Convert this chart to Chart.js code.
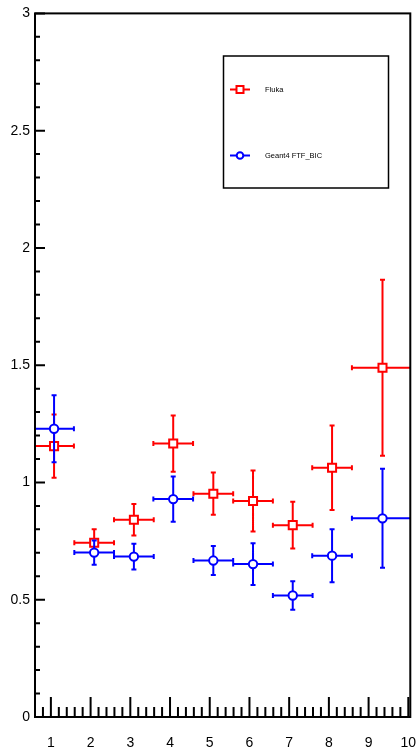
<!DOCTYPE html>
<html>
<head>
<meta charset="utf-8">
<script src="https://cdn.jsdelivr.net/npm/chart.js@4.4.1/dist/chart.umd.min.js"></script>
<style>
html, body { margin: 0; padding: 0; background: #fff; }
#wrap { width: 418px; height: 749px; }
</style>
</head>
<body>
<div id="wrap"><canvas id="c"></canvas></div>
<script>
// bins (centre and half width)
const binX = [1.08, 2.09, 3.09, 4.08, 5.09, 6.09, 7.09, 8.08, 9.35];
const binHalf = [0.5, 0.5, 0.5, 0.5, 0.5, 0.5, 0.5, 0.5, 0.77];

const flukaY = [1.155, 0.743, 0.841, 1.166, 0.952, 0.921, 0.818, 1.063, 1.489];
const flukaErr = [0.135, 0.057, 0.067, 0.12, 0.09, 0.13, 0.1, 0.18, 0.375];

const geantY = [1.229, 0.701, 0.684, 0.929, 0.667, 0.652, 0.518, 0.688, 0.847];
const geantErr = [0.143, 0.052, 0.055, 0.096, 0.062, 0.089, 0.061, 0.113, 0.211];

// labelled ticks
const yLabels = [0, 0.5, 1, 1.5, 2, 2.5, 3];
const xLabels = [1, 2, 3, 4, 5, 6, 7, 8, 9, 10];

const points = (ys, errs) => ys.map((v, i) => ({ x: binX[i], y: v, xErr: binHalf[i], yErr: errs[i] }));
const near = (list, v) => list.find(l => Math.abs(l - v) < 1e-6);

// every minor step between min and max
function stepTicks(s, step) {
    const t = [];
    const first = Math.ceil(s.min / step - 1e-6);
    for (let i = first; i * step <= s.max + 1e-6; i++) t.push({ value: Math.round(i * step * 100) / 100 });
    s.ticks = t;
}

Chart.defaults.font.family = "'Liberation Sans', Arial, sans-serif";
Chart.defaults.color = "#000";

// error bars, drawn under each dataset's markers
const errorBars = {
    id: "errorBars",
    beforeDatasetDraw(chart, args) {
        const ds = chart.data.datasets[args.index];
        const { ctx, chartArea: a, scales: { x, y } } = chart;
        ctx.save();
        ctx.beginPath();
        ctx.rect(a.left, a.top, a.right - a.left, a.bottom - a.top);
        ctx.clip();
        ctx.strokeStyle = ds.borderColor;
        ctx.lineWidth = 2;
        ctx.beginPath();
        ds.data.forEach(p => {
            const px = x.getPixelForValue(p.x), py = y.getPixelForValue(p.y);
            const x0 = x.getPixelForValue(p.x - p.xErr), x1 = x.getPixelForValue(p.x + p.xErr);
            const y0 = y.getPixelForValue(p.y - p.yErr), y1 = y.getPixelForValue(p.y + p.yErr);
            ctx.moveTo(x0, py); ctx.lineTo(x1, py);
            ctx.moveTo(px, y0); ctx.lineTo(px, y1);
            ctx.moveTo(x0, py - 2.5); ctx.lineTo(x0, py + 2.5);
            ctx.moveTo(x1, py - 2.5); ctx.lineTo(x1, py + 2.5);
            ctx.moveTo(px - 2.5, y0); ctx.lineTo(px + 2.5, y0);
            ctx.moveTo(px - 2.5, y1); ctx.lineTo(px + 2.5, y1);
        });
        ctx.stroke();
        ctx.restore();
    }
};

// frame + inward ticks, ROOT style
const frame = {
    id: "frame",
    afterDraw(chart) {
        const { ctx, chartArea: a, scales: { x, y } } = chart;
        ctx.save();
        ctx.strokeStyle = "#000";
        ctx.lineWidth = 2;
        ctx.strokeRect(a.left, a.top, a.right - a.left, a.bottom - a.top);
        ctx.beginPath();
        y.ticks.forEach(t => {
            const py = y.getPixelForValue(t.value);
            const len = t.label !== "" ? 10 : 5;
            ctx.moveTo(a.left, py); ctx.lineTo(a.left + len, py);
        });
        x.ticks.forEach(t => {
            const px = x.getPixelForValue(t.value);
            const len = t.label !== "" ? 20 : 10;
            ctx.moveTo(px, a.bottom); ctx.lineTo(px, a.bottom - len);
        });
        ctx.stroke();
        ctx.restore();
    }
};

// legend box
const legendBox = {
    id: "legendBox",
    afterDraw(chart) {
        const ctx = chart.ctx;
        const box = { x: 223.5, y: 56, w: 165, h: 132 };
        const rows = [89.5, 155.5];
        ctx.save();
        ctx.fillStyle = "#fff";
        ctx.fillRect(box.x, box.y, box.w, box.h);
        ctx.strokeStyle = "#000";
        ctx.lineWidth = 1.5;
        ctx.strokeRect(box.x, box.y, box.w, box.h);
        chart.data.datasets.forEach((ds, i) => {
            const ry = rows[i];
            ctx.strokeStyle = ds.borderColor;
            ctx.lineWidth = 2;
            ctx.beginPath();
            ctx.moveTo(230, ry); ctx.lineTo(250, ry);
            ctx.stroke();
            ctx.fillStyle = "#fff";
            ctx.beginPath();
            if (ds.pointStyle === "rect") ctx.rect(236.5, ry - 3.5, 7, 7);
            else ctx.arc(240, ry, 3.3, 0, Math.PI * 2);
            ctx.fill();
            ctx.stroke();
            ctx.fillStyle = "#000";
            ctx.font = "7.5px 'Liberation Sans', Arial, sans-serif";
            ctx.textBaseline = "middle";
            ctx.fillText(ds.label, 265, ry);
        });
        ctx.restore();
    }
};

new Chart(document.getElementById("c"), {
    type: "scatter",
    data: {
        datasets: [{
            label: "Fluka",
            data: points(flukaY, flukaErr),
            borderColor: "#ff0000",
            backgroundColor: "#ffffff",
            pointStyle: "rect",
            pointRadius: 5.7,
            pointBorderWidth: 2,
            order: 1
        },
        {
            label: "Geant4 FTF_BIC",
            data: points(geantY, geantErr),
            borderColor: "#0000ff",
            backgroundColor: "#ffffff",
            pointStyle: "circle",
            pointRadius: 4.2,
            pointBorderWidth: 2,
            order: 0
        }]
    },
    options: {
        responsive: true,
        maintainAspectRatio: false,
        animation: false,
        layout: { padding: { top: 12, right: 6.5, left: 0, bottom: 0 } },
        plugins: { legend: { display: false }, tooltip: { enabled: false } },
        scales: {
            x: {
                type: "linear",
                min: 0.6,
                max: 10.05,
                border: { display: false },
                grid: { display: false, drawTicks: false },
                afterBuildTicks: s => stepTicks(s, 0.2),
                ticks: {
                    autoSkip: false,
                    maxRotation: 0,
                    padding: 18,
                    font: { size: 14 },
                    callback: v => { const l = near(xLabels, v); return l === undefined ? "" : String(l); }
                },
                afterFit(s) { s.height = 32; s.paddingRight = 0; s.paddingLeft = 0; }
            },
            y: {
                type: "linear",
                min: 0,
                max: 3,
                border: { display: false },
                grid: { display: false, drawTicks: false },
                afterBuildTicks: s => stepTicks(s, 0.1),
                ticks: {
                    autoSkip: false,
                    padding: 5,
                    font: { size: 14 },
                    callback: v => { const l = near(yLabels, v); return l === undefined ? "" : String(l); }
                },
                afterFit(s) { s.width = 35; }
            }
        }
    },
    plugins: [errorBars, frame, legendBox]
});
</script>
</body>
</html>
